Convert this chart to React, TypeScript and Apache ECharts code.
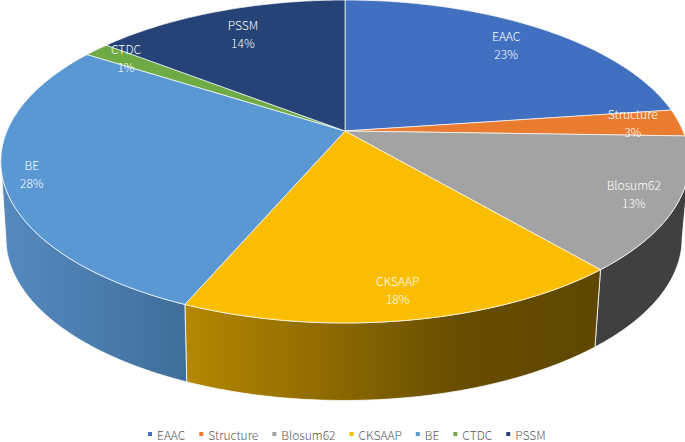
import React, { useEffect, useRef } from "react";
import * as echarts from "echarts";

const categories = ["EAAC", "Structure", "Blosum62", "CKSAAP", "BE", "CTDC", "PSSM"];
const shares = [22.8, 2.7, 13.3, 17.6, 27.7, 1.45, 14.45];
const colors = ["#4170C0", "#EA7C30", "#A3A3A3", "#FBBD00", "#5A98D4", "#6FAB45", "#254377"];
// how far along each slice's middle radius its label sits (0 = apex, 1 = rim)
const labelReach = [0.81, 0.86, 0.88, 0.87, 0.92, 0.87, 0.78];
const FONT = '"Noto Sans CJK SC", "Noto Sans", sans-serif';

// Perspective projection of a tilted disc
const K = 0.1889;
const TOP = { cx: 345, cy: 131, rx: 338, ry: 155.7 };
const BOTTOM = { cx: 344, cy: 207.9, rx: 332, ry: 156.2 };
const project = (p: typeof TOP, deg: number, reach = 1): [number, number] => {
  const a = (deg * Math.PI) / 180;
  const u = Math.sin(a) * reach;
  const v = -Math.cos(a) * reach;
  const w = 1 - K * v;
  return [p.cx + (p.rx * u) / w, p.cy + (p.ry * v) / w];
};
const total = shares.reduce((s, v) => s + v, 0);
const spans = shares.map((_, i) => {
  const before = shares.slice(0, i).reduce((s, v) => s + v, 0);
  return [(before / total) * 360, ((before + shares[i]) / total) * 360];
});
const arc = (p: typeof TOP, a: number, b: number) => {
  const pts: [number, number][] = [];
  const n = Math.max(2, Math.ceil(Math.abs(b - a)));
  for (let i = 0; i <= n; i++) pts.push(project(p, a + ((b - a) * i) / n));
  return pts;
};

// Visible front wall limits (silhouette angles) in degrees
const WALL_FROM = 100.9;
const WALL_TO = 259.1;
const wallFill = (name: string) => {
  const g = (x0: number, x1: number, stops: string[]) =>
    new echarts.graphic.LinearGradient(
      x0, 0, x1, 0,
      stops.map((color, i) => ({ offset: i / (stops.length - 1), color })),
      true,
    );
  if (name === "BE") return g(5, 188, ["#5589BE", "#4A7CAC", "#3F6D99"]);
  if (name === "CKSAAP") return g(188, 595, ["#B38700", "#8F6B00", "#674D00", "#5F4700"]);
  return "#404040";
};

export default function App() {
  const ref = useRef<HTMLDivElement>(null);
  useEffect(() => {
    document.body.style.margin = "0";
    const chart = echarts.init(ref.current!, undefined, { renderer: "svg" });
    const wallSeries = {
      type: "custom",
      coordinateSystem: "none",
      silent: true,
      z: 1,
      data: shares.map((v, i) => [v, i]),
      renderItem: (_: any, api: any) => {
        const i = api.value(1);
        const a = Math.max(spans[i][0], WALL_FROM);
        const b = Math.min(spans[i][1], WALL_TO);
        if (b <= a) return { type: "group", children: [] };
        const points = [...arc(TOP, a, b), ...arc(BOTTOM, b, a)];
        return {
          type: "polygon",
          shape: { points },
          style: { fill: wallFill(categories[i]), stroke: "#fff", lineWidth: 0.8 },
        };
      },
    };
    const faceSeries = categories.map((name, i) => ({
      type: "custom",
      name,
      coordinateSystem: "none",
      silent: true,
      z: 2,
      itemStyle: { color: colors[i] },
      data: [[shares[i]]],
      renderItem: () => {
        const apex = project(TOP, 0, 0);
        return {
          type: "polygon",
          shape: { points: [apex, ...arc(TOP, spans[i][0], spans[i][1])] },
          style: { fill: colors[i], stroke: "#fff", lineWidth: 0.8, strokeOpacity: 0.85 },
        };
      },
    }));
    const labelSeries = {
      type: "custom",
      coordinateSystem: "none",
      silent: true,
      z: 3,
      data: shares.map((v, i) => [v, i]),
      renderItem: (_: any, api: any) => {
        const i = api.value(1);
        const [x, y] = project(TOP, (spans[i][0] + spans[i][1]) / 2, labelReach[i]);
        const line = (text: string, yy: number) => ({
          type: "text",
          style: {
            text, x, y: yy, fill: "#fff", font: `300 12px ${FONT}`,
            align: "center", verticalAlign: "middle",
          },
        });
        return {
          type: "group",
          children: [
            line(categories[i], y - 10.5),
            line(`${Math.round(api.value(0))}%`, y + 7.5),
          ],
        };
      },
    };
    chart.setOption({
      animation: false,
      backgroundColor: "#fff",
      legend: {
        data: categories,
        left: 148,
        top: 428,
        icon: "rect",
        itemWidth: 4,
        itemHeight: 4,
        itemGap: 14,
        padding: 0,
        selectedMode: false,
        textStyle: { color: "#595959", fontSize: 12, fontWeight: 300, fontFamily: FONT, lineHeight: 10 },
      },
      series: [wallSeries, ...faceSeries, labelSeries],
    });
    return () => chart.dispose();
  }, []);
  return <div ref={ref} style={{ width: 685, height: 442 }} />;
}
